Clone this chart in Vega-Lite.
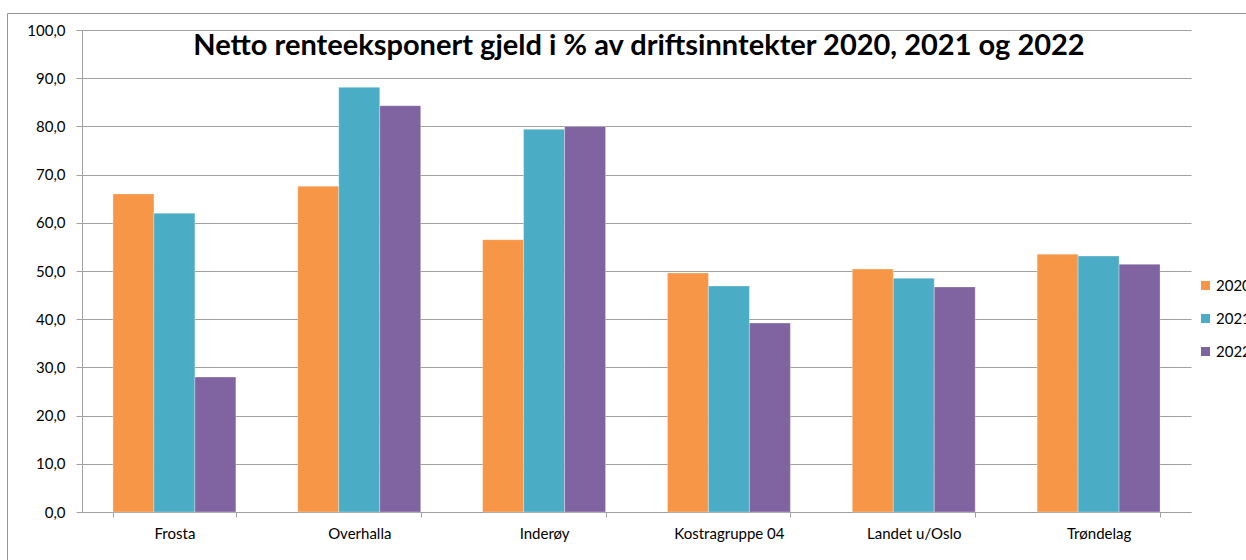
{
  "$schema": "https://vega.github.io/schema/vega-lite/v6.json",
  "width": 1246,
  "height": 554,
  "autosize": {"type": "none"},
  "padding": {"left": 7, "top": 13, "right": 0, "bottom": 0},
  "background": "white",
  "title": {
    "text": "Netto renteeksponert gjeld i % av driftsinntekter 2020, 2021 og 2022",
    "font": "Lato",
    "fontSize": 29,
    "fontWeight": "bold",
    "color": "#000000",
    "anchor": "middle",
    "baseline": "alphabetic",
    "offset": -71,
    "dx": 9
  },
  "data": {
    "values": [
      {"omrade": "Frosta", "aar": "2020", "verdi": 66.0},
      {"omrade": "Frosta", "aar": "2021", "verdi": 62.0},
      {"omrade": "Frosta", "aar": "2022", "verdi": 28.0},
      {"omrade": "Overhalla", "aar": "2020", "verdi": 67.6},
      {"omrade": "Overhalla", "aar": "2021", "verdi": 88.1},
      {"omrade": "Overhalla", "aar": "2022", "verdi": 84.3},
      {"omrade": "Inderøy", "aar": "2020", "verdi": 56.5},
      {"omrade": "Inderøy", "aar": "2021", "verdi": 79.4},
      {"omrade": "Inderøy", "aar": "2022", "verdi": 80.0},
      {"omrade": "Kostragruppe 04", "aar": "2020", "verdi": 49.6},
      {"omrade": "Kostragruppe 04", "aar": "2021", "verdi": 46.9},
      {"omrade": "Kostragruppe 04", "aar": "2022", "verdi": 39.2},
      {"omrade": "Landet u/Oslo", "aar": "2020", "verdi": 50.4},
      {"omrade": "Landet u/Oslo", "aar": "2021", "verdi": 48.5},
      {"omrade": "Landet u/Oslo", "aar": "2022", "verdi": 46.7},
      {"omrade": "Trøndelag", "aar": "2020", "verdi": 53.5},
      {"omrade": "Trøndelag", "aar": "2021", "verdi": 53.1},
      {"omrade": "Trøndelag", "aar": "2022", "verdi": 51.4}
    ]
  },
  "mark": {"type": "bar", "stroke": "white", "strokeWidth": 0.5, "strokeOpacity": 0.6},
  "encoding": {
    "x": {
      "field": "omrade",
      "type": "nominal",
      "sort": null,
      "scale": {"type": "band", "paddingInner": 0.335, "paddingOuter": 0.1675, "range": [75, 1184]},
      "axis": {
        "title": null,
        "labelAngle": 0,
        "grid": false,
        "offset": -55,
        "tickBand": "extent",
        "tickExtra": true,
        "tickSize": 5,
        "tickColor": "#a0a0a0",
        "domainColor": "#a0a0a0",
        "labelPadding": 9,
        "labelBaseline": "top",
        "labelFont": "Lato",
        "labelFontSize": 15,
        "labelColor": "#000000"
      }
    },
    "xOffset": {"field": "aar", "type": "nominal", "scale": {"paddingInner": 0, "paddingOuter": 0}},
    "y": {
      "field": "verdi",
      "type": "quantitative",
      "scale": {"domain": [0, 100], "range": [499, 17], "nice": false},
      "axis": {
        "title": null,
        "values": [0, 10, 20, 30, 40, 50, 60, 70, 80, 90, 100],
        "labelExpr": "replace(format(datum.value, '.1f'), '.', ',')",
        "offset": -75,
        "grid": true,
        "gridColor": "#a0a0a0",
        "tickSize": 6,
        "tickColor": "#a0a0a0",
        "domainColor": "#a0a0a0",
        "labelPadding": 11,
        "labelFont": "Lato",
        "labelFontSize": 15,
        "labelColor": "#000000"
      }
    },
    "color": {
      "field": "aar",
      "type": "nominal",
      "scale": {"domain": ["2020", "2021", "2022"], "range": ["#F79646", "#4BACC6", "#8064A2"]},
      "legend": {
        "title": null,
        "orient": "none",
        "legendX": 1191,
        "legendY": 265,
        "padding": 0,
        "symbolType": "square",
        "symbolSize": 81,
        "symbolStrokeWidth": 0,
        "labelOffset": 3,
        "labelFont": "Lato",
        "labelFontSize": 15,
        "labelColor": "#000000",
        "rowPadding": 17
      }
    }
  },
  "config": {
    "view": {"stroke": "#969696", "strokeWidth": 1}
  }
}
